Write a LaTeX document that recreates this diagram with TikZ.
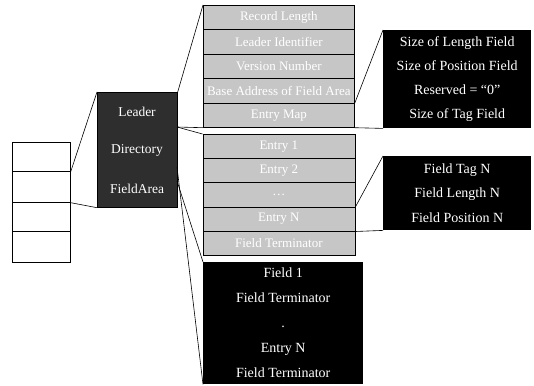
\documentclass[tikz,border=0pt]{standalone}
\usepackage{fontspec}
\setmainfont{Liberation Serif}
\begin{document}
\begin{tikzpicture}[x=1pt,y=-1pt,
  conn/.style={draw=black,line width=0.6pt},
  cell/.style={draw=black,line width=0.7pt,fill=white,minimum width=58pt,inner sep=0pt,anchor=north west},
  rowbox/.style={draw=black,line width=0.7pt,fill=gray!45,text=white,minimum width=151pt,minimum height=24.4pt,inner sep=0pt,anchor=north west,font=\fontsize{13}{15}\selectfont},
  dirbox/.style={draw=black,line width=0.7pt,fill=gray!45,text=white,minimum width=152pt,minimum height=24.2pt,inner sep=0pt,anchor=north west,font=\fontsize{13}{15}\selectfont},
  blackbox/.style={fill=black,text=white,inner sep=0pt,anchor=north west,align=center},
  darklabel/.style={text=white,inner sep=0pt,font=\fontsize{13.5}{15}\selectfont}
]
\useasboundingbox (0,0) rectangle (534,385);

% left record box
\node[cell,minimum height=29pt] (L1) at (12,142) {};
\node[cell,minimum height=31pt] (L2) at (12,171) {};
\node[cell,minimum height=29pt] (L3) at (12,202) {};
\node[cell,minimum height=31pt] (L4) at (12,231) {};

% dark box
\node[fill=black!82,draw=black,line width=0.7pt,minimum width=80pt,minimum height=115pt,inner sep=0pt,anchor=north west] (D) at (97,92) {};
\node[darklabel] (Dlead) at (137,112) {Leader};
\node[darklabel] (Ddir) at (137,150) {Directory};
\node[darklabel] (Dfld) at (137,189) {FieldArea};
\coordinate (DL) at (177,127);
\coordinate (DA) at (177,167);
\coordinate (DB) at (177,181);

% leader rows
\node[rowbox] (r1) at (203,5) {Record Length};
\node[rowbox] (r2) at (203,29.4) {Leader Identifier};
\node[rowbox] (r3) at (203,53.8) {Version Number};
\node[rowbox] (r4) at (203,78.2) {Base Address of Field Area};
\node[rowbox] (r5) at (203,102.6) {Entry Map};

% directory rows
\node[dirbox] (e1) at (202.5,134) {Entry 1};
\node[dirbox] (e2) at (202.5,158.2) {Entry 2};
\node[dirbox] (e3) at (202.5,182.4) {\dots};
\node[dirbox] (e4) at (202.5,206.6) {Entry N};
\node[dirbox] (e5) at (202.5,230.8) {Field Terminator};

% right black boxes
\node[blackbox,minimum width=148pt,minimum height=98pt,font=\fontsize{14}{24}\selectfont] (RT) at (383,30)
  {Size of Length Field\\Size of Position Field\\Reserved = “0”\\Size of Tag Field};
\node[blackbox,minimum width=148pt,minimum height=74pt,font=\fontsize{14}{24.5}\selectfont] (RM) at (383,156)
  {Field Tag N\\Field Length N\\Field Position N};

% field area box
\node[blackbox,minimum width=160pt,minimum height=122pt,font=\fontsize{14}{25}\selectfont] (F) at (203,262)
  {Field 1\\Field Terminator\\.\\Entry N\\Field Terminator};

% connectors
\draw[conn] (L1.south east) -- (D.north west);
\draw[conn] (L2.south east) -- (D.south west);
\draw[conn] (D.north east) -- (r1.north west);
\draw[conn] (DL) -- (r5.south west);
\draw[conn] (DL) -- (e1.north west);
\draw[conn] (DA) -- (F.south west);
\draw[conn] (DB) -- (F.north west);
\draw[conn] (r4.south east) -- (RT.north west);
\draw[conn] (r5.south east) -- (RT.south west);
\draw[conn] (e3.south east) -- (RM.north west);
\draw[conn] (e4.south east) -- (RM.south west);
\end{tikzpicture}
\end{document}
